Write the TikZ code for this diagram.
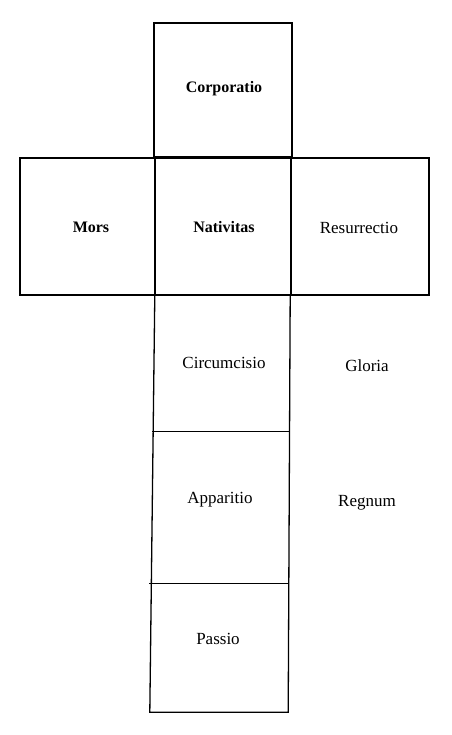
\documentclass[tikz,border=0pt]{standalone}
\usepackage{fontspec}
\setmainfont{Liberation Serif}
\begin{document}
\begin{tikzpicture}[x=1pt,y=-1pt,
  cell/.style={draw=black,line width=1.3pt,inner sep=0pt},
  ghost/.style={inner sep=0pt},
  rule/.style={draw=black,line width=1.3pt,line cap=rect},
  lbl/.style={font=\fontsize{17}{19}\selectfont,inner sep=0pt},
  blbl/.style={font=\fontsize{16}{19}\selectfont\bfseries,inner sep=0pt}]
\useasboundingbox[fill=white] (0,0) rectangle (451,735);
% cells
\node[cell] (corpcell) at (223,90) [minimum width=138pt,minimum height=134pt] {};
\node[cell] (morscell) at (87.5,226.5) [minimum width=135pt,minimum height=137pt] {};
\node[cell] (natcell) at (223,226.5) [minimum width=136pt,minimum height=137pt] {};
\node[cell] (rescell) at (360,226.5) [minimum width=138pt,minimum height=137pt] {};
\node[ghost] (circcell) at (222.5,363.5) [minimum width=135pt,minimum height=137pt] {};
\node[ghost] (appcell) at (221,508) [minimum width=136pt,minimum height=152pt] {};
\node[ghost] (passcell) at (219,648) [minimum width=138pt,minimum height=128pt] {};
% lower column outline
\draw[rule] (circcell.north west) -- (passcell.south west) -- (passcell.south east) -- (circcell.north east);
\draw[rule] (appcell.north west) -- (appcell.north east);
\draw[rule] (passcell.north west) -- (passcell.north east);
% labels
\node[blbl] (corp) at (224,89) {Corporatio};
\node[blbl] (mors) at (91,227) {Mors};
\node[blbl] (nat) at (224,227) {Nativitas};
\node[lbl] (res) at (359,228) {Resurrectio};
\node[lbl] (circ) at (224,363) {Circumcisio};
\node[lbl] (app) at (220,500) {Apparitio};
\node[lbl] (pass) at (218,639) {Passio};
\node[lbl] (glor) at (367,366) {Gloria};
\node[lbl] (reg) at (367,503) {Regnum};
\end{tikzpicture}
\end{document}
